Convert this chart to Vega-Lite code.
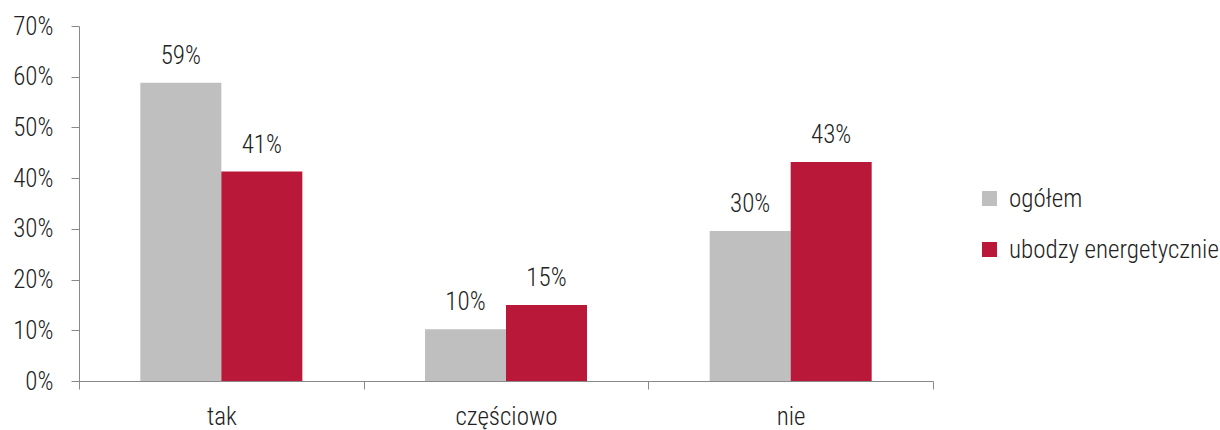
{
  "$schema": "https://vega.github.io/schema/vega-lite/v6.json",
  "width": 854,
  "height": 355,
  "autosize": {"type": "none"},
  "padding": {"left": 79, "top": 26, "right": 287, "bottom": 49},
  "background": "white",
  "config": {
    "view": {"stroke": null},
    "font": "Roboto Condensed, Liberation Sans Narrow, Roboto",
    "axis": {"labelFont": "Roboto Condensed, Liberation Sans Narrow, Roboto", "labelFontSize": 25, "labelFontWeight": 300, "labelColor": "#222222", "domainColor": "#898989", "tickColor": "#898989", "domainWidth": 1, "tickWidth": 1, "grid": false, "title": null},
    "legend": {"labelFont": "Roboto Condensed, Liberation Sans Narrow, Roboto", "labelFontSize": 25, "labelFontWeight": 300, "labelColor": "#222222", "labelLimit": 400}
  },
  "data": {
    "values": [
      {"kategoria": "tak", "seria": "ogółem", "wartosc": 0.588},
      {"kategoria": "tak", "seria": "ubodzy energetycznie", "wartosc": 0.413},
      {"kategoria": "częściowo", "seria": "ogółem", "wartosc": 0.102},
      {"kategoria": "częściowo", "seria": "ubodzy energetycznie", "wartosc": 0.15},
      {"kategoria": "nie", "seria": "ogółem", "wartosc": 0.296},
      {"kategoria": "nie", "seria": "ubodzy energetycznie", "wartosc": 0.432}
    ]
  },
  "encoding": {
    "x": {
      "field": "kategoria",
      "type": "nominal",
      "sort": ["tak", "częściowo", "nie"],
      "scale": {"paddingInner": 0, "paddingOuter": 0},
      "axis": {"labelAngle": 0, "tickBand": "extent", "tickSize": 8, "labelPadding": 15}
    },
    "xOffset": {
      "field": "seria",
      "sort": ["ogółem", "ubodzy energetycznie"],
      "scale": {"paddingInner": 0, "paddingOuter": 0.757}
    },
    "y": {
      "field": "wartosc",
      "type": "quantitative",
      "scale": {"domain": [0, 0.7]},
      "axis": {"values": [0, 0.1, 0.2, 0.3, 0.4, 0.5, 0.6, 0.7], "format": ".0%", "tickSize": 8, "labelPadding": 18}
    }
  },
  "layer": [
    {
      "mark": {"type": "bar"},
      "encoding": {
        "color": {
          "field": "seria",
          "type": "nominal",
          "scale": {"domain": ["ogółem", "ubodzy energetycznie"], "range": ["#BFBFBF", "#B91838"]},
          "legend": {"title": null, "orient": "none", "legendX": 898, "legendY": 160, "symbolType": "square", "symbolSize": 225, "symbolStrokeWidth": 0, "labelOffset": 7, "rowPadding": 25}
        }
      }
    },
    {
      "mark": {"type": "text", "baseline": "alphabetic", "dy": -19, "fontSize": 25, "fontWeight": 300, "color": "#222222"},
      "encoding": {"text": {"field": "wartosc", "type": "quantitative", "format": ".0%"}}
    }
  ]
}
